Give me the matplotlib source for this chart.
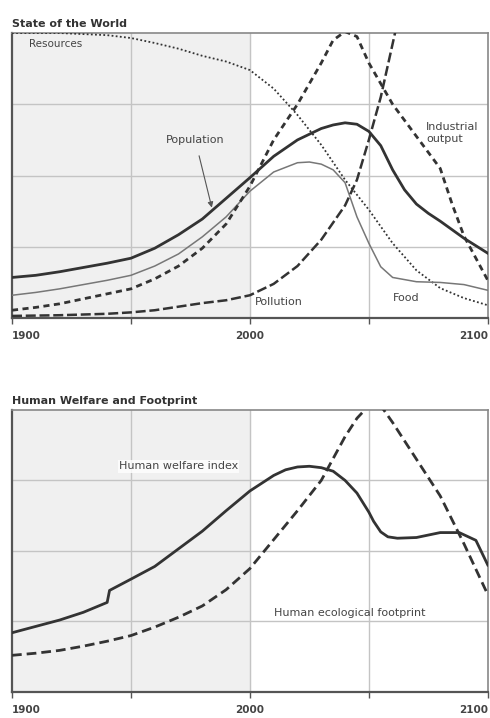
import matplotlib.pyplot as plt

# ---- State of the World (values in grid units 0..4) ----
pop_years = [1900, 1910, 1920, 1930, 1940, 1950, 1960, 1970, 1980, 1990, 2000,
             2010, 2020, 2030, 2035, 2040, 2045, 2050, 2055, 2060, 2065, 2070,
             2075, 2080, 2090, 2100]
population = [0.57, 0.60, 0.65, 0.71, 0.77, 0.84, 0.98, 1.17, 1.39, 1.68, 1.97,
              2.27, 2.50, 2.66, 2.71, 2.74, 2.72, 2.62, 2.42, 2.08, 1.80, 1.60,
              1.47, 1.36, 1.12, 0.91]

food_years = [1900, 1910, 1920, 1930, 1940, 1950, 1960, 1970, 1980, 1990, 2000,
              2010, 2020, 2025, 2030, 2035, 2040, 2045, 2050, 2055, 2060, 2070,
              2080, 2090, 2100]
food = [0.32, 0.36, 0.41, 0.47, 0.53, 0.60, 0.73, 0.90, 1.14, 1.42, 1.78,
        2.05, 2.18, 2.19, 2.16, 2.08, 1.90, 1.42, 1.05, 0.72, 0.57, 0.51,
        0.50, 0.47, 0.39]

ind_years = [1900, 1910, 1920, 1930, 1940, 1950, 1960, 1970, 1980, 1990, 2000,
             2010, 2020, 2030, 2035, 2040, 2045, 2050, 2060, 2070, 2080, 2085,
             2090, 2100]
industrial = [0.11, 0.15, 0.20, 0.27, 0.34, 0.41, 0.55, 0.73, 0.98, 1.32, 1.85,
              2.50, 3.00, 3.58, 3.90, 4.02, 3.95, 3.58, 3.00, 2.55, 2.10, 1.60,
              1.15, 0.53]

pol_years = [1900, 1920, 1940, 1950, 1960, 1970, 1980, 1990, 2000, 2010, 2020,
             2030, 2040, 2045, 2050, 2055, 2060, 2065]
pollution = [0.03, 0.04, 0.06, 0.08, 0.11, 0.16, 0.21, 0.25, 0.32, 0.48, 0.73,
             1.10, 1.58, 1.94, 2.50, 3.10, 3.85, 4.60]

res_years = [1900, 1920, 1940, 1950, 1960, 1970, 1980, 1990, 2000, 2010, 2020,
             2030, 2040, 2050, 2060, 2070, 2080, 2090, 2100]
resources = [4.00, 4.00, 3.97, 3.93, 3.86, 3.78, 3.68, 3.60, 3.48, 3.22, 2.85,
             2.43, 1.94, 1.52, 1.05, 0.67, 0.42, 0.28, 0.18]

# ---- Human Welfare and Footprint ----
wel_years = [1900, 1910, 1920, 1930, 1940, 1941, 1950, 1960, 1970, 1980, 1990,
             2000, 2010, 2015, 2020, 2025, 2030, 2035, 2040, 2045, 2050, 2052,
             2055, 2058, 2062, 2070, 2080, 2088, 2095, 2100]
welfare = [0.84, 0.93, 1.02, 1.13, 1.27, 1.44, 1.60, 1.78, 2.03, 2.28, 2.57,
           2.85, 3.07, 3.15, 3.19, 3.20, 3.18, 3.13, 3.00, 2.82, 2.55, 2.42,
           2.27, 2.20, 2.18, 2.19, 2.26, 2.26, 2.15, 1.80]

foot_years = [1900, 1910, 1920, 1930, 1940, 1950, 1960, 1970, 1980, 1990, 2000,
              2010, 2020, 2030, 2040, 2045, 2050, 2055, 2060, 2070, 2080, 2090, 2100]
footprint = [0.52, 0.55, 0.59, 0.65, 0.72, 0.80, 0.92, 1.06, 1.22, 1.45, 1.75,
             2.16, 2.57, 3.00, 3.62, 3.88, 4.06, 4.06, 3.82, 3.30, 2.78, 2.10, 1.38]

DARK = '#333333'
TXT = '#444444'

fig = plt.figure(figsize=(4.9, 7.18), dpi=100)
ax1 = fig.add_axes([0.0245, 0.557, 0.971, 0.397])
ax2 = fig.add_axes([0.0245, 0.0362, 0.971, 0.393])


def style(ax):
    ax.set_xlim(1900, 2100)
    ax.set_ylim(0, 4)
    ax.axvspan(1900, 2000, color='#f0f0f0', zorder=0)
    for v in [1950, 2000, 2050]:
        ax.axvline(v, color='#c4c4c4', lw=1, zorder=1)
    for h in [1, 2, 3]:
        ax.axhline(h, color='#c4c4c4', lw=1, zorder=1)
    for s in ['left', 'bottom']:
        ax.spines[s].set_color('#555555')
        ax.spines[s].set_linewidth(1.6)
    for s in ['top', 'right']:
        ax.spines[s].set_color('#888888')
        ax.spines[s].set_linewidth(1.2)
    ax.set_yticks([])
    ax.set_xticks([1900, 1950, 2000, 2050, 2100])
    ax.set_xticklabels(['1900', '', '2000', '', '2100'], fontsize=7.5,
                       fontweight='bold', color=TXT)
    labs = ax.get_xticklabels()
    labs[0].set_ha('left')
    labs[4].set_ha('right')
    ax.tick_params(axis='x', length=4, width=1, color='#555555', pad=5)


line_kw = dict(solid_joinstyle='round', dash_joinstyle='round')

style(ax1)
ax1.plot(res_years, resources, color=DARK, lw=1.3, ls=(0, (1, 1.3)), zorder=3, **line_kw)
ax1.plot(food_years, food, color='#777777', lw=1.1, zorder=3, **line_kw)
ax1.plot(pol_years, pollution, color=DARK, lw=1.8, ls=(0, (4, 1.5)), zorder=3, **line_kw)
ax1.plot(ind_years, industrial, color=DARK, lw=2.0, ls=(0, (2.2, 1.6)), zorder=3, **line_kw)
ax1.plot(pop_years, population, color=DARK, lw=2.0, zorder=4, **line_kw)

ax1.text(1907, 3.8, 'Resources', fontsize=7.5, color=TXT)
ax1.annotate('Population', xy=(1984, 1.55), xytext=(1977, 2.5), fontsize=8,
             color=TXT, ha='center', va='center',
             arrowprops=dict(arrowstyle='-|>', color='#555555', lw=0.8,
                             shrinkA=6, shrinkB=0))
ax1.text(2074, 2.6, 'Industrial\noutput', fontsize=8, color=TXT, ha='left',
         va='center', linespacing=1.3)
ax1.text(2002, 0.22, 'Pollution', fontsize=8, color=TXT, ha='left', va='center')
ax1.text(2060, 0.28, 'Food', fontsize=8, color=TXT, ha='left', va='center')
ax1.set_title('State of the World', loc='left', fontsize=8, fontweight='bold',
              color=DARK, pad=4)

style(ax2)
ax2.plot(foot_years, footprint, color=DARK, lw=2.0, ls=(0, (3.5, 1.8)), zorder=3, **line_kw)
ax2.plot(wel_years, welfare, color=DARK, lw=2.0, zorder=4, **line_kw)
ax2.text(1970, 3.2, 'Human welfare index', fontsize=8, color=TXT, ha='center',
         va='center', bbox=dict(facecolor='white', edgecolor='none', pad=1, alpha=0.8))
ax2.text(2042, 1.12, 'Human ecological footprint', fontsize=8, color=TXT,
         ha='center', va='center')
ax2.set_title('Human Welfare and Footprint', loc='left', fontsize=8,
              fontweight='bold', color=DARK, pad=4)

fig.savefig('out.png', dpi=100)
print('saved out.png')
